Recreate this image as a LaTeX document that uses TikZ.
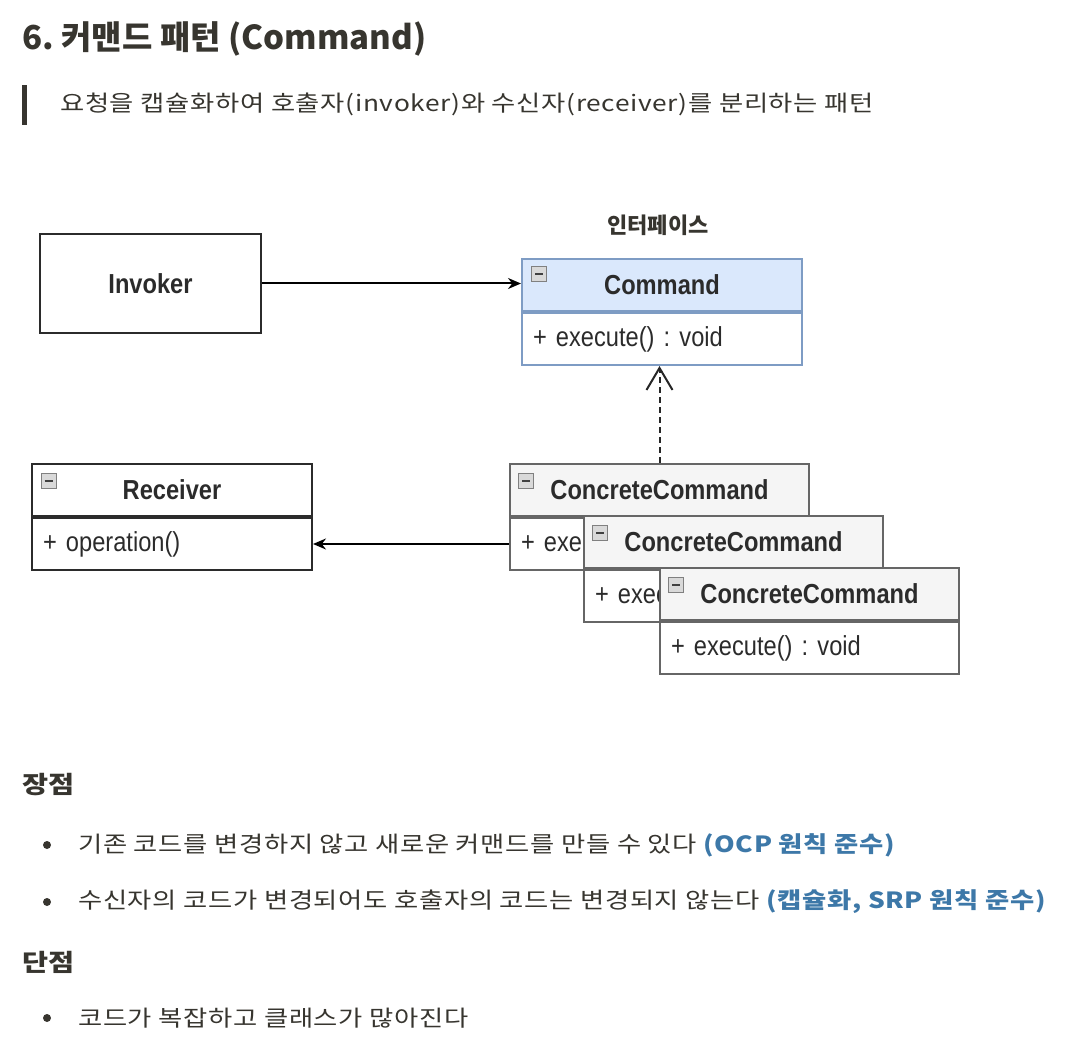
\documentclass[tikz,border=0pt]{standalone}
\usepackage{fontspec}
\setmainfont{Noto Sans CJK KR}
\newfontfamily\bodyfont{Noto Sans CJK KR}[FakeStretch=1.18, LetterSpace=3]
\newfontfamily\umlfont{Liberation Sans}[FakeStretch=0.86]
\usetikzlibrary{positioning,arrows.meta}
\definecolor{ink}{HTML}{37352F}
\definecolor{umlink}{HTML}{2B2B2B}
\definecolor{cmdfill}{HTML}{DAE8FC}
\definecolor{cmdline}{HTML}{7E9CC4}
\definecolor{ccfill}{HTML}{F5F5F5}
\definecolor{ccline}{HTML}{666666}
\definecolor{linkblue}{HTML}{3D78A8}
\frenchspacing
\begin{document}
\begin{tikzpicture}[x=1pt, y=-1pt,
    main/.style = {draw=umlink, line width=2pt, text=umlink, font=\umlfont\bfseries\fontsize{27.5}{30}\selectfont},
    head/.style = {main, anchor=north west, minimum width=280pt, minimum height=52pt, inner sep=0pt},
    body/.style = {main, font=\umlfont\fontsize{27.5}{30}\selectfont, minimum height=52pt, text width=258pt, inner xsep=11pt, inner ysep=0pt, align=left},
    cchead/.style = {head, minimum width=299pt, draw=ccline, fill=ccfill},
    ccbody/.style = {body, text width=277pt, draw=ccline, fill=white},
    minus/.style = {draw=gray, fill=gray!30, line width=0.9pt, minimum size=15pt, inner sep=0pt,
        path picture={\draw[line width=2pt, black!75] ([xshift=3.5pt]path picture bounding box.west) -- ([xshift=-3.5pt]path picture bounding box.east);}},
    txt/.style = {anchor=west, inner sep=0pt, text=ink, font=\bodyfont\fontsize{22.3}{26}\selectfont},
    sub/.style = {txt, font=\bodyfont\bfseries\fontsize{24}{28}\selectfont},
    dot/.style = {circle, fill=ink, minimum size=8pt, inner sep=0pt},
    arrow/.style = {draw=black, line width=2pt, -{Stealth[length=13pt, width=11pt]}}]
    \useasboundingbox (0,0) rectangle (1090,1048);

    % heading and quote
    \node[txt, font=\bfseries\fontsize{33}{38}\selectfont] (title) at (22,39) {6. 커맨드 패턴 (Command)};
    \fill[ink] (22,85) rectangle (27,125);
    \node[txt] (quote) at (60,104) {요청을 캡슐화하여 호출자(invoker)와 수신자(receiver)를 분리하는 패턴};

    % class diagram
    \node[main, minimum width=221pt, minimum height=99pt] (inv) at (150.5,283.5) {Invoker};
    \node[txt, anchor=center, font=\bfseries\fontsize{22}{26}\selectfont] (iface) at (658,225) {인터페이스};
    \node[head, draw=cmdline, fill=cmdfill] (cmd) at (521,258) {Command};
    \node[body, draw=cmdline, below=0pt of cmd] (cmdb) {+ execute() : void};
    \node[minus] (cmdi) at ([shift={(18,16)}]cmd.north west) {};

    \node[head] (rcv) at (31,463) {Receiver};
    \node[body, below=0pt of rcv] (rcvb) {+ operation()};
    \node[minus] (rcvi) at ([shift={(17.5,18)}]rcv.north west) {};

    \node[cchead] (cc1) at (509,463) {ConcreteCommand};
    \node[ccbody, below=0pt of cc1] (cc1b) {+ execute() : void};
    \node[minus] (cc1i) at ([shift={(17,18)}]cc1.north west) {};
    \node[cchead] (cc2) at (583,515) {ConcreteCommand};
    \node[ccbody, below=0pt of cc2] (cc2b) {+ execute() : void};
    \node[minus] (cc2i) at ([shift={(17,18)}]cc2.north west) {};
    \node[cchead] (cc3) at (659,567) {ConcreteCommand};
    \node[ccbody, below=0pt of cc3] (cc3b) {+ execute() : void};
    \node[minus] (cc3i) at ([shift={(17,18)}]cc3.north west) {};

    \draw[arrow] (inv) to (cmd.west |- inv);
    \draw[arrow] (cc1b.west) to (rcvb.east);
    \draw[draw=black!85, line width=2pt, dash pattern=on 6pt off 4pt,
        -{Straight Barb[length=22pt, width=26pt, line width=2pt]}] (cc1.north) to (cc1.north |- cmdb.south);

    % pros and cons
    \node[sub] (pro) at (22,785) {장점};
    \node[dot] (d1) at (47,845) {};
    \node[txt] (p1) at (78,845) {기존 코드를 변경하지 않고 새로운 커맨드를 만들 수 있다 \textcolor{linkblue}{\bfseries (OCP 원칙 준수)}};
    \node[dot] (d2) at (47,902) {};
    \node[txt] (p2) at (78,902) {수신자의 코드가 변경되어도 호출자의 코드는 변경되지 않는다 \textcolor{linkblue}{\bfseries (캡슐화, SRP 원칙 준수)}};
    \node[sub] (con) at (22,962) {단점};
    \node[dot] (d3) at (47,1018) {};
    \node[txt] (c1) at (78,1018) {코드가 복잡하고 클래스가 많아진다};
\end{tikzpicture}
\end{document}
